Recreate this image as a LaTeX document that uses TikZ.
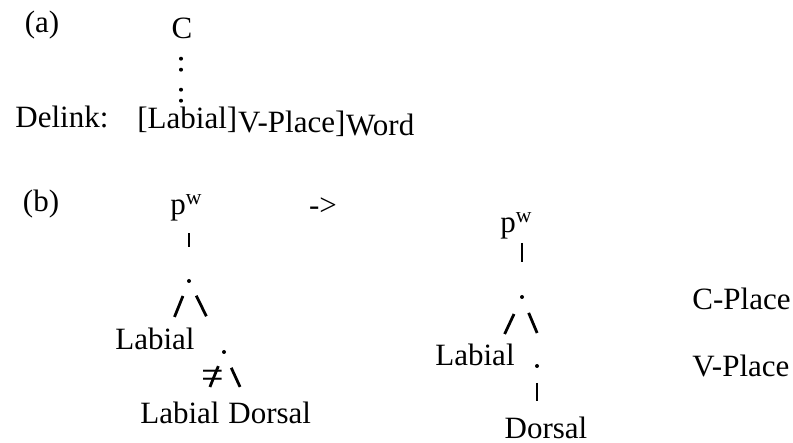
\documentclass[tikz,border=0pt]{standalone}
\usepackage{fontspec}
\setmainfont{Liberation Serif}
\usetikzlibrary{calc}

\begin{document}
\begin{tikzpicture}[x=0.5pt,y=-0.5pt,
  txt/.style={inner sep=0pt,font=\fontsize{15.5}{18}\selectfont},
  dot/.style={circle,fill,inner sep=0pt,minimum size=2pt},
  link/.style={line width=1.4pt},
  dots/.style={line width=2pt,line cap=round,dash pattern=on 0pt off 5.5pt on 0pt off 10pt}]
  \useasboundingbox (0,0) rectangle (793,443);
  % (a) delinking rule
  \node[txt,anchor=base] (pa) at (42,33) {(a)};
  \node[txt,anchor=base] (c) at (182,39) {C};
  \node[txt,anchor=base west] (delink) at (15,128) {Delink:};
  \node[txt,anchor=base west] (lbr) at (137,129) {[Labial]};
  \node[txt,anchor=base west] (vpl) at ($(lbr.base east)+(0,4)$) {V-Place]};
  \node[txt,anchor=base west] (wrd) at ($(vpl.base east)+(0,3)$) {Word};
  \draw[dots,shorten <=9.5pt,shorten >=2.5pt] ([xshift=-0.5pt]c.south) -- ([xshift=-0.5pt]c.south |- lbr.north);
  % (b) before and after
  \node[txt,anchor=base] (pb) at (41,212) {(b)};
  \node[txt,anchor=base west] (pl) at (170,215) {p\textsuperscript{w}};
  \node[txt,anchor=base] (arr) at (323,216) {->};
  \node[txt,anchor=base west] (pr) at (500,233) {p\textsuperscript{w}};
  % Nodes of the trees
  \foreach \n/\x/\y in {cpl/189/281,vdl/224/352,cpr/522/297,vdr/537/366}
    \node[dot] (\n) at (\x,\y) {};
  \node[txt,anchor=base] (labl) at (155,350) {Labial};
  \node[txt,anchor=base west] (lab2) at (140,423) {Labial};
  \node[txt,anchor=base west] (dor2) at (228,423) {Dorsal};
  \node[txt,anchor=base] (labr) at (475,365) {Labial};
  \node[txt,anchor=base] (dorr) at (546,438) {Dorsal};
  % Tier names
  \node[txt,anchor=base west] (cplace) at (692,310) {C-Place};
  \node[txt,anchor=base west] (vplace) at (692,377) {V-Place};
  % Left tree
  \draw[link,shorten <=5.6pt,shorten >=15.75pt] (pl.south -| cpl) -- (cpl);
  \draw[link,shorten <=6.9pt,shorten >=6pt] (cpl) -- (labl.37);
  \draw[link,shorten <=7pt,shorten >=18.75pt] (cpl) -- (vdl);
  \draw[link,shorten <=6.4pt,shorten >=7.6pt] (vdl) -- (lab2.25)
    node[pos=0.53,inner sep=0pt,font=\fontsize{20}{20}\selectfont] (cut) {=};
  \draw[link,shorten <=7.5pt,shorten >=7.8pt] (vdl) -- (dor2.154);
  % Right tree
  \draw[link,shorten <=1.5pt,shorten >=16.25pt] (pr.south -| cpr) -- (cpr);
  \draw[link,shorten <=8.2pt,shorten >=5pt] (cpr) -- (labr.24);
  \draw[link,shorten <=7.4pt,shorten >=17.9pt] (cpr) -- ([xshift=7pt]vdr.center);
  \draw[link,shorten <=7.25pt,shorten >=7.5pt] (vdr) -- (vdr |- dorr.north);
\end{tikzpicture}
\end{document}
